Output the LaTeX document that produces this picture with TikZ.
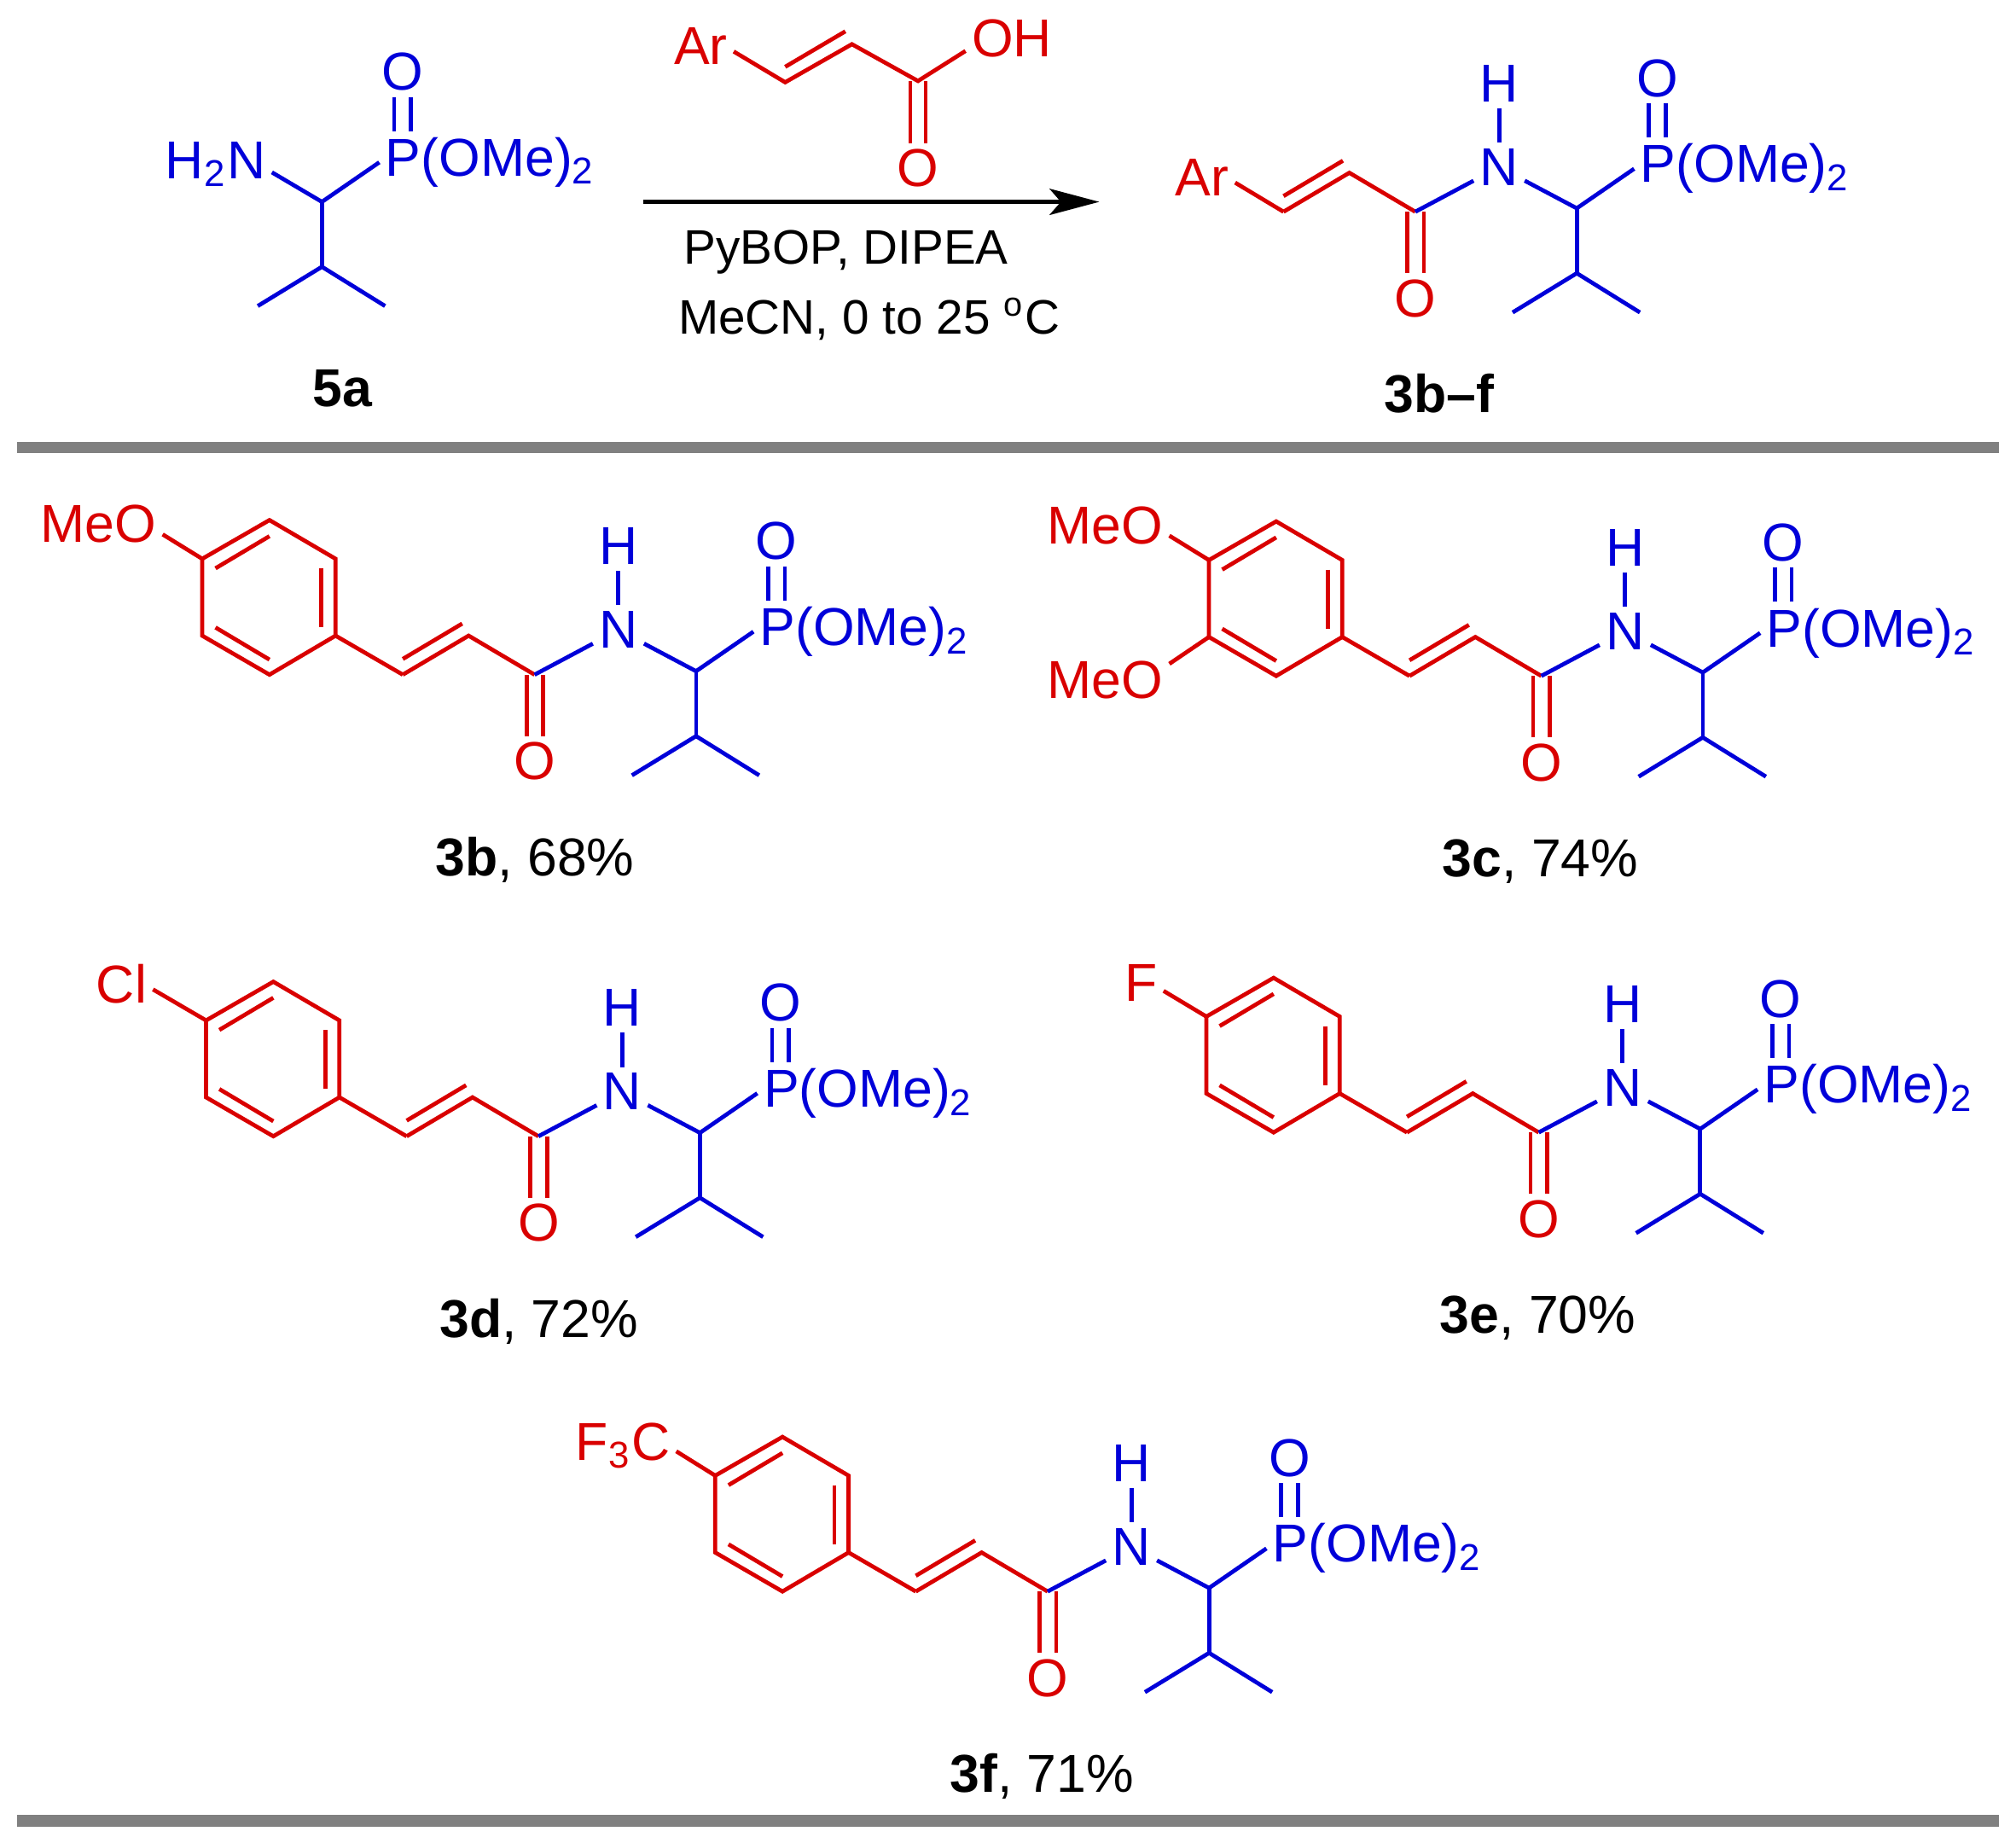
\documentclass[tikz,border=0pt]{standalone}
\usepackage{fontspec}
\setmainfont{Liberation Sans}
\usetikzlibrary{arrows.meta}
\definecolor{chemred}{RGB}{217,0,0}
\definecolor{chemblue}{RGB}{0,0,217}
\tikzstyle{every node}=[font=\fontsize{11.8}{14}\selectfont, inner sep=1.2pt]
\tikzstyle{atomred} = [text=chemred]
\tikzstyle{atomblue} = [text=chemblue]
\tikzstyle{caption} = [anchor=base west]
\tikzstyle{reagent} = [font=\fontsize{10.7}{14}\selectfont]
\tikzstyle{redbond} = [draw=chemred, line width=0.9pt]
\tikzstyle{bluebond} = [draw=chemblue, line width=0.9pt]
\tikzstyle{rule} = [draw=black!50, line width=2.5pt]
\tikzstyle{arrow} = [line width=0.85pt,-{Stealth[length=11pt,width=5.8pt,inset=2.5pt]}]

% CH(iPr)-P(O)(OMe)2 part, coordinates are those of 3b
\newcommand{\phosphonate}[1]{
  \coordinate (#1ch) at (541.4,522);
  \coordinate (#1iso) at (541.4,572.5);
  \coordinate (#1me1) at (491.5,603);
  \coordinate (#1me2) at (590.5,603);
  \node (#1P) [atomblue, anchor=base west] at (586,502) {P(OMe)\textsubscript{2}};
  \node (#1PO) [atomblue] at (604,421) {O};
  \draw [bluebond] (#1ch) -- (#1P.west);
  \draw [bluebond] (#1ch) -- (#1iso);
  \draw [bluebond] (#1me1) -- (#1iso) -- (#1me2);
  \draw [bluebond] ([xshift=-0.065cm]#1PO.south) -- ([xshift=-0.065cm]#1PO.south |- #1P.north);
  \draw [bluebond] ([xshift=0.065cm]#1PO.south) -- ([xshift=0.065cm]#1PO.south |- #1P.north);
}
% ArCH=CH-C(O)-NH part
\newcommand{\enamide}[1]{
  \coordinate (#1b) at (313.3,524.7);
  \coordinate (#1c) at (364.5,494.4);
  \coordinate (#1d) at (415.8,524.7);
  \coordinate (#1bi) at (313.3,512.5);
  \coordinate (#1ci) at (359.5,485);
  \node (#1CO) [atomred] at (416,592) {O};
  \node (#1N) [atomblue] at (481,490) {N};
  \node (#1H) [atomblue] at (481,425) {H};
  \draw [redbond] (#1b) -- (#1c) -- (#1d);
  \draw [redbond] (#1bi) -- (#1ci);
  \draw [redbond] ([xshift=-0.065cm]#1CO.north) -- ([xshift=-0.065cm]#1CO.north |- #1d);
  \draw [redbond] ([xshift=0.065cm]#1CO.north) -- ([xshift=0.065cm]#1CO.north |- #1d);
  \draw [bluebond] (#1d) -- (#1N);
  \draw [bluebond] (#1N) -- (#1ch);
  \draw [bluebond] (#1N) -- (#1H);
}
\newcommand{\arylring}[1]{
  \coordinate (#1r1) at (157.3,434.6);
  \coordinate (#1r2) at (209.6,404.5);
  \coordinate (#1r3) at (261,434.6);
  \coordinate (#1r4) at (261,494.4);
  \coordinate (#1r5) at (209.6,524.7);
  \coordinate (#1r6) at (157.3,494.4);
  \coordinate (#1i1) at (167.6,442);
  \coordinate (#1i2) at (209.6,417);
  \coordinate (#1i3) at (250,442);
  \coordinate (#1i4) at (250,488);
  \coordinate (#1i5) at (209.6,513);
  \coordinate (#1i6) at (167.6,488);
  \draw [redbond] (#1r1) -- (#1r2) -- (#1r3) -- (#1r4) -- (#1r5) -- (#1r6) -- cycle;
  \draw [redbond] (#1i1) -- (#1i2);
  \draw [redbond] (#1i3) -- (#1i4);
  \draw [redbond] (#1i5) -- (#1i6);
  \draw [redbond] (#1r4) -- (#1b);
}

\begin{document}
\begin{tikzpicture}[x=0.01cm, y=-0.01cm]
  \useasboundingbox (0,0) rectangle (1568,1432.7);

  % 5a
  \begin{scope}[shift={(-291,-365)}]
    \phosphonate{a}
    \node (aN) [atomblue, anchor=base east] at (502.5,504) {H\textsubscript{2}N};
    \draw [bluebond] (aN.-8) -- (ach);
    \node (acap) [caption, font=\fontsize{11.8}{14}\selectfont\bfseries] at (529.5,681) {5a};
  \end{scope}

  % acid
  \node (acAr) [atomred] at (545,36) {Ar};
  \node (acOH) [atomred] at (787,30) {OH};
  \node (acO) [atomred] at (714,131) {O};
  \coordinate (acb) at (610.7,64);
  \coordinate (acc) at (662.6,34.4);
  \coordinate (acd) at (714,63);
  \coordinate (acbi) at (610.7,52);
  \coordinate (acci) at (657.5,24.4);
  \draw [redbond] (acAr.-9) -- (acb) -- (acc) -- (acd) -- (acOH.195);
  \draw [redbond] (acbi) -- (acci);
  \draw [redbond] ([xshift=-0.06cm]acO.north) -- ([xshift=-0.06cm]acO.north |- acd);
  \draw [redbond] ([xshift=0.06cm]acO.north) -- ([xshift=0.06cm]acO.north |- acd);

  % arrow and conditions
  \coordinate (arrowstart) at (500,157);
  \coordinate (arrowend) at (855,157);
  \draw [arrow] (arrowstart) -- (arrowend);
  \node (cond1) [reagent] at (658,196) {PyBOP, DIPEA};
  \node (cond2) [reagent] at (676,248) {MeCN, 0 to 25 \textsuperscript{o}C};

  % general product
  \begin{scope}[shift={(685,-360)}]
    \phosphonate{p}
    \enamide{p}
    \node (pAr) [atomred] at (250,498) {Ar};
    \draw [redbond] (pAr.-9) -- (pb);
    \node (pcap) [caption, font=\fontsize{11.8}{14}\selectfont\bfseries] at (387,681) {3b--f};
  \end{scope}

  \coordinate (rule1a) at (13,348);
  \coordinate (rule1b) at (1555,348);
  \draw [rule] (rule1a) -- (rule1b);

  % 3b
  \begin{scope}
    \phosphonate{b}
    \enamide{b}
    \arylring{b}
    \node (bX) [atomred, anchor=base east] at (126.5,422) {MeO};
    \draw [redbond] (bX.-9) -- (br1);
    \node (bcap) [caption] at (334,681) {\textbf{3b}, 68\%};
  \end{scope}

  % 3c
  \begin{scope}[shift={(783,1)}]
    \phosphonate{c}
    \enamide{c}
    \arylring{c}
    \node (cX) [atomred, anchor=base east] at (126.5,422) {MeO};
    \node (cY) [atomred, anchor=base east] at (126.5,542) {MeO};
    \draw [redbond] (cX.-9) -- (cr1);
    \draw [redbond] (cY.14) -- (cr6);
    \node (ccap) [caption] at (334,681) {\textbf{3c}, 74\%};
  \end{scope}

  % 3d
  \begin{scope}[shift={(3,359)}]
    \phosphonate{d}
    \enamide{d}
    \arylring{d}
    \node (dX) [atomred, anchor=base east] at (116,421) {Cl};
    \draw [redbond] (dX.-10) -- (dr1);
    \node (dcap) [caption] at (334,681) {\textbf{3d}, 72\%};
  \end{scope}

  % 3e
  \begin{scope}[shift={(781,356)}]
    \phosphonate{e}
    \enamide{e}
    \arylring{e}
    \node (eX) [atomred, anchor=base east] at (124,422.5) {F};
    \draw [redbond] (eX.-20) -- (er1);
    \node (ecap) [caption] at (334,681) {\textbf{3e}, 70\%};
  \end{scope}

  % 3f
  \begin{scope}[shift={(399,713)}]
    \phosphonate{f}
    \enamide{f}
    \arylring{f}
    \node (fX) [atomred, anchor=base east] at (127,422.5) {F\textsubscript{3}C};
    \draw [redbond] (fX.-6) -- (fr1);
    \node (fcap) [caption] at (335,681) {\textbf{3f}, 71\%};
  \end{scope}

  \coordinate (rule2a) at (13,1416);
  \coordinate (rule2b) at (1555,1416);
  \draw [rule] (rule2a) -- (rule2b);
\end{tikzpicture}
\end{document}
